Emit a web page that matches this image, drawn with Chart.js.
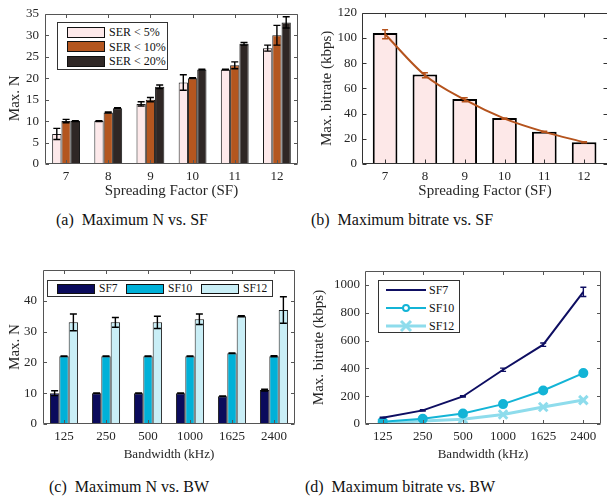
<!DOCTYPE html>
<html><head><meta charset="utf-8">
<script src="https://cdn.jsdelivr.net/npm/chart.js@4.4.0/dist/chart.umd.min.js"></script>
<style>
html,body{margin:0;padding:0;background:#fff;}
body{width:607px;height:499px;position:relative;overflow:hidden;font-family:serif;color:#222;}
canvas{position:absolute;}
.cap{position:absolute;font-size:16px;white-space:pre;transform:translate(-50%,-50%);color:#111;line-height:1;}
.leg{position:absolute;border:1px solid #333;background:#fff;box-sizing:border-box;font-size:12px;color:#111;}
.leg .tx{position:absolute;white-space:nowrap;line-height:1;transform:translateY(-50%);}
.leg .sw{position:absolute;box-sizing:border-box;border:1px solid #111;}
.leg svg{position:absolute;}
</style></head><body>
<canvas id="ca" width="300" height="205" style="left:0;top:0"></canvas>
<canvas id="cb" width="310" height="205" style="left:300px;top:0"></canvas>
<canvas id="cc" width="300" height="215" style="left:0;top:250px"></canvas>
<canvas id="cd" width="310" height="215" style="left:300px;top:250px"></canvas>
<script>
// ---------- data ----------
const sfLabels = ['7','8','9','10','11','12'];
const sfValues = [7,8,9,10,11,12];
const serNames = ['SER < 5%','SER < 10%','SER < 20%'];
const maxN_ser5 = [7,10,14,19,22,27];
const maxN_ser5Err = [1.3,0.1,0.5,1.8,0.1,0.7];
const maxN_ser10 = [10,12,15,20,23,30];
const maxN_ser10Err = [0.4,0.1,0.5,0.1,0.8,2.3];
const maxN_ser20 = [10,13,18,22,28,33];
const maxN_ser20Err = [0.1,0.1,0.4,0.1,0.3,1.3];
const ticksA = [0,5,10,15,20,25,30,35];

const bitrateBar = [104,71,51.5,36.5,25.5,17.3];
const bitrateMeas = [103,70.5,51,36,25.5,17.3];
const bitrateMeasErr = [3.5,2,1.5,0.5,0.4,0.4];
const ticksB = [0,20,40,60,80,100,120];

const bwLabels = ['125','250','500','1000','1625','2400'];
const sfNames = ['SF7','SF10','SF12'];
const maxN_sf7 = [10,10,10,10,9,11];
const maxN_sf7Err = [0.8,0.1,0.1,0.1,0.1,0.3];
const maxN_sf10 = [22,22,22,22,23,22];
const maxN_sf10Err = [0.1,0.1,0.1,0.1,0.1,0.2];
const maxN_sf12 = [33,33,33,34,35,37];
const maxN_sf12Err = [2.7,1.6,2.0,1.7,0.2,4.3];
const ticksC = [0,10,20,30,40];

const rate_sf7 = [45,98,198,390,570,950];
const rate_sf7Err = [3,4,5,12,12,33];
const rate_sf10 = [17,38,76,143,241,366];
const rate_sf12 = [8,22,35,68,122,172];
const ticksD = [0,200,400,600,800,1000];

// ---------- colours ----------
const cSer = ['#fde9ea','#b4561f','#2f2725'];
const cSf = ['#0b0b5c','#00b1d8','#c9eef6'];
const cSfLine = ['#0e0e62','#13b4d6','#8edcec'];
const cBitrate = '#b5531d';

// ---------- setup ----------
const FONT = 'Liberation Serif';
const fnt = s => ({family: FONT, size: s, style: 'normal', lineHeight: 1.2});
Chart.defaults.font = {family: FONT, size: 13, style: 'normal', lineHeight: 1.2, weight: null};
Chart.defaults.color = '#262626';
Chart.defaults.animation = false;
Chart.defaults.plugins.legend.display = false;
Chart.defaults.plugins.tooltip.enabled = false;

const errPlugin = {
  id: 'errbars',
  afterDatasetsDraw(chart) {
    const ctx = chart.ctx, ys = chart.scales.y;
    chart.data.datasets.forEach((ds, di) => {
      if (!ds.errors) return;
      const meta = chart.getDatasetMeta(di);
      ctx.save();
      ctx.strokeStyle = ds.errColor || '#000';
      ctx.lineWidth = ds.errWidth || 1.4;
      const cap = ds.errCap || 3.5;
      meta.data.forEach((el, i) => {
        const e = ds.errors[i];
        if (e == null) return;
        const v = meta.controller.getParsed(i).y;
        const x = el.x, y1 = ys.getPixelForValue(v - e), y2 = ys.getPixelForValue(v + e);
        ctx.beginPath();
        ctx.moveTo(x, y1); ctx.lineTo(x, y2);
        ctx.moveTo(x - cap, y1); ctx.lineTo(x + cap, y1);
        ctx.moveTo(x - cap, y2); ctx.lineTo(x + cap, y2);
        ctx.stroke();
      });
      ctx.restore();
    });
  }
};

const framePlugin = {
  id: 'frame',
  afterDraw(chart, args, o) {
    const ctx = chart.ctx, a = chart.chartArea, xs = chart.scales.x, ys = chart.scales.y;
    const L = Math.round(a.left) + 0.5, R = Math.round(a.right) - 0.5;
    const T = Math.round(a.top) + 0.5, B = Math.round(a.bottom) - 0.5;
    const len = o.len || 4;
    ctx.save();
    ctx.strokeStyle = o.color || '#555';
    ctx.lineWidth = 1;
    ctx.beginPath();
    ctx.moveTo(L, T); ctx.lineTo(R, T); ctx.lineTo(R, B); ctx.lineTo(L, B); ctx.closePath();
    xs.ticks.forEach((t, i) => {
      const px = Math.round(xs.getPixelForTick(i)) + 0.5;
      ctx.moveTo(px, B); ctx.lineTo(px, B - len);
      ctx.moveTo(px, T); ctx.lineTo(px, T + len);
    });
    ys.ticks.forEach((t, i) => {
      const py = Math.round(ys.getPixelForTick(i)) + 0.5;
      ctx.moveTo(L, py); ctx.lineTo(L + len, py);
      ctx.moveTo(R, py); ctx.lineTo(R - len, py);
    });
    ctx.stroke();
    ctx.restore();
  }
};

const noGrid = {display: false, drawTicks: false};
const noBorder = {display: false};
const plain = v => String(v);
const setTicks = arr => s => { s.ticks = arr.map(v => ({value: v})); };
const charts = [];

// ---------- (a) ----------
charts.push(new Chart(document.getElementById('ca'), {
  type: 'bar',
  data: {
    labels: sfLabels,
    datasets: [
      {label: serNames[0], data: maxN_ser5, errors: maxN_ser5Err, backgroundColor: cSer[0], borderColor: '#1a1a1a', borderWidth: 1},
      {label: serNames[1], data: maxN_ser10, errors: maxN_ser10Err, backgroundColor: cSer[1], borderColor: '#1a1a1a', borderWidth: 1},
      {label: serNames[2], data: maxN_ser20, errors: maxN_ser20Err, backgroundColor: cSer[2], borderColor: '#1a1a1a', borderWidth: 1}
    ]
  },
  options: {
    responsive: false,
    layout: {padding: {top: 10, right: 2, left: 0, bottom: 0}},
    datasets: {bar: {categoryPercentage: 0.66, barPercentage: 1}},
    scales: {
      x: {grid: noGrid, border: noBorder, ticks: {padding: 5, font: fnt(13)},
          title: {display: true, text: 'Spreading Factor (SF)', font: fnt(15), padding: {top: 0, bottom: 5}},
          afterFit: s => { s.height = 41; }},
      y: {min: 0, max: 35, grid: noGrid, border: noBorder, afterBuildTicks: setTicks(ticksA),
          ticks: {padding: 6, font: fnt(13), callback: plain, autoSkip: false},
          title: {display: true, text: 'Max. N     ', font: fnt(15), padding: {top: 6, bottom: 0}},
          afterFit: s => { s.width = 45; }}
    },
    plugins: {frame: {color: '#555', len: 3.5}}
  },
  plugins: [errPlugin, framePlugin]
}));

// ---------- (b) ----------
charts.push(new Chart(document.getElementById('cb'), {
  type: 'bar',
  data: {
    datasets: [
      {type: 'bar', label: 'Max. bitrate', data: sfValues.map((x, i) => ({x: x, y: bitrateBar[i]})),
       backgroundColor: '#fde8e8', borderColor: '#000', borderWidth: 2, barPercentage: 0.62, categoryPercentage: 1},
      {type: 'line', label: 'measured', data: sfValues.map((x, i) => ({x: x, y: bitrateMeas[i]})),
       errors: bitrateMeasErr, errColor: cBitrate, errWidth: 1.5, errCap: 3,
       borderColor: cBitrate, borderWidth: 2, pointRadius: 0, cubicInterpolationMode: 'monotone', order: -1}
    ]
  },
  options: {
    responsive: false,
    layout: {padding: {top: 10, right: 2, left: 0, bottom: 0}},
    scales: {
      x: {type: 'linear', min: 6.42, max: 12.6, offset: false, grid: noGrid, border: noBorder,
          afterBuildTicks: setTicks(sfValues),
          ticks: {padding: 5, font: fnt(13), callback: plain, autoSkip: false},
          title: {display: true, text: 'Spreading Factor (SF)', font: fnt(15), padding: {top: 0, bottom: 5}},
          afterFit: s => { s.height = 41; }},
      y: {min: 0, max: 120, grid: noGrid, border: noBorder, afterBuildTicks: setTicks(ticksB),
          ticks: {padding: 5, font: fnt(13), callback: plain, autoSkip: false},
          title: {display: true, text: 'Max. bitrate (kbps)', font: fnt(15), padding: {top: 18, bottom: 0}},
          afterFit: s => { s.width = 62; }}
    },
    plugins: {frame: {color: '#333', len: 4}}
  },
  plugins: [errPlugin, framePlugin]
}));

// ---------- (c) ----------
charts.push(new Chart(document.getElementById('cc'), {
  type: 'bar',
  data: {
    labels: bwLabels,
    datasets: [
      {label: sfNames[0], data: maxN_sf7, errors: maxN_sf7Err, backgroundColor: cSf[0], borderColor: '#1a1a1a', borderWidth: 1},
      {label: sfNames[1], data: maxN_sf10, errors: maxN_sf10Err, backgroundColor: cSf[1], borderColor: '#1a1a1a', borderWidth: 1},
      {label: sfNames[2], data: maxN_sf12, errors: maxN_sf12Err, backgroundColor: cSf[2], borderColor: '#1a1a1a', borderWidth: 1}
    ]
  },
  options: {
    responsive: false,
    layout: {padding: {top: 20, right: 5, left: 0, bottom: 0}},
    datasets: {bar: {categoryPercentage: 0.67, barPercentage: 1}},
    scales: {
      x: {grid: noGrid, border: noBorder, ticks: {padding: 5, font: fnt(13)},
          title: {display: true, text: 'Bandwidth (kHz)', font: fnt(13), padding: {top: 0, bottom: 3}},
          afterFit: s => { s.height = 41; }},
      y: {min: 0, max: 50, grid: noGrid, border: noBorder, afterBuildTicks: setTicks(ticksC),
          ticks: {padding: 6, font: fnt(13), callback: plain, autoSkip: false},
          title: {display: true, text: 'Max. N', font: fnt(15), padding: {top: 6, bottom: 0}},
          afterFit: s => { s.width = 43; }}
    },
    plugins: {frame: {color: '#555', len: 3.5}}
  },
  plugins: [errPlugin, framePlugin]
}));

// ---------- (d) ----------
const idx = bwLabels.map((l, i) => i + 1);
charts.push(new Chart(document.getElementById('cd'), {
  type: 'line',
  data: {
    datasets: [
      {label: sfNames[0], data: idx.map((x, i) => ({x: x, y: rate_sf7[i]})), errors: rate_sf7Err, errColor: cSfLine[0], errWidth: 1.4, errCap: 3,
       borderColor: cSfLine[0], borderWidth: 2, pointRadius: 0, tension: 0},
      {label: sfNames[1], data: idx.map((x, i) => ({x: x, y: rate_sf10[i]})),
       borderColor: cSfLine[1], backgroundColor: cSfLine[1], borderWidth: 2, pointRadius: 4, pointStyle: 'circle', pointBorderWidth: 2, tension: 0},
      {label: sfNames[2], data: idx.map((x, i) => ({x: x, y: rate_sf12[i]})),
       borderColor: cSfLine[2], backgroundColor: cSfLine[2], borderWidth: 3, pointRadius: 6, pointStyle: 'crossRot', pointBorderWidth: 3, tension: 0}
    ]
  },
  options: {
    responsive: false,
    layout: {padding: {top: 21, right: 5, left: 0, bottom: 0}},
    scales: {
      x: {type: 'linear', min: 0.56, max: 6.44, grid: noGrid, border: noBorder,
          afterBuildTicks: setTicks(idx),
          ticks: {padding: 5, font: fnt(13), callback: v => bwLabels[v - 1], autoSkip: false},
          title: {display: true, text: 'Bandwidth (kHz)', font: fnt(13), padding: {top: 0, bottom: 3}},
          afterFit: s => { s.height = 41; }},
      y: {min: 0, max: 1100, grid: noGrid, border: noBorder, afterBuildTicks: setTicks(ticksD),
          ticks: {padding: 5, font: fnt(13), callback: plain, autoSkip: false},
          title: {display: true, text: 'Max. bitrate (kbps)', font: fnt(15), padding: {top: 10, bottom: 0}},
          afterFit: s => { s.width = 65; }}
    },
    plugins: {frame: {color: '#555', len: 3.5}}
  },
  plugins: [errPlugin, framePlugin]
}));

// re-render once fonts are settled
const rerender = () => charts.forEach(c => c.update('none'));
if (document.fonts && document.fonts.ready) document.fonts.ready.then(rerender);
window.addEventListener('load', rerender);
setTimeout(rerender, 60);
</script>
<div class="cap" style="left:132px;top:220px">(a)  Maximum N vs. SF</div>
<div class="cap" style="left:402px;top:220px">(b)  Maximum bitrate vs. SF</div>
<div class="cap" style="left:129px;top:487px">(c)  Maximum N vs. BW</div>
<div class="cap" style="left:400px;top:487px">(d)  Maximum bitrate vs. BW</div>
<div id="lega" class="leg" style="left:57px;top:22px;width:111px;height:48px"></div>
<div id="legc" class="leg" style="left:47px;top:280px;width:226px;height:17px"></div>
<div id="legd" class="leg" style="left:378px;top:280px;width:82px;height:53px"></div>
<script>
function el(tag, cls, style, text) {
  const e = document.createElement(tag);
  if (cls) e.className = cls;
  if (style) e.setAttribute('style', style);
  if (text != null) e.textContent = text;
  return e;
}
const la = document.getElementById('lega');
serNames.forEach((n, i) => {
  const cy = 9 + i * 14.5;
  la.appendChild(el('div', 'sw', `left:9px;top:${cy - 5.5}px;width:38px;height:11px;background:${cSer[i]}`));
  la.appendChild(el('div', 'tx', `left:51px;top:${cy}px`, n));
});
const lc = document.getElementById('legc');
const lcX = [9, 78, 153];
sfNames.forEach((n, i) => {
  lc.appendChild(el('div', 'sw', `left:${lcX[i]}px;top:2.5px;width:38px;height:10px;background:${cSf[i]}`));
  lc.appendChild(el('div', 'tx', `left:${lcX[i] + 42}px;top:7.5px;font-size:11.5px`, n));
});
const ld = document.getElementById('legd');
sfNames.forEach((n, i) => {
  const cy = 8.5 + i * 18;
  const svgNS = 'http://www.w3.org/2000/svg';
  const svg = document.createElementNS(svgNS, 'svg');
  svg.setAttribute('width', '42'); svg.setAttribute('height', '14');
  svg.setAttribute('style', `left:6px;top:${cy - 7}px`);
  const ln = document.createElementNS(svgNS, 'line');
  ln.setAttribute('x1', '1'); ln.setAttribute('x2', '41'); ln.setAttribute('y1', '7'); ln.setAttribute('y2', '7');
  ln.setAttribute('stroke', cSfLine[i]); ln.setAttribute('stroke-width', i === 2 ? '3' : '2');
  svg.appendChild(ln);
  if (i === 1) {
    const c = document.createElementNS(svgNS, 'circle');
    c.setAttribute('cx', '21'); c.setAttribute('cy', '7'); c.setAttribute('r', '3');
    c.setAttribute('fill', '#fff'); c.setAttribute('stroke', cSfLine[1]); c.setAttribute('stroke-width', '2');
    svg.appendChild(c);
  }
  if (i === 2) {
    const p = document.createElementNS(svgNS, 'path');
    p.setAttribute('d', 'M16 2 L26 12 M26 2 L16 12');
    p.setAttribute('stroke', cSfLine[2]); p.setAttribute('stroke-width', '3');
    svg.appendChild(p);
  }
  ld.appendChild(svg);
  ld.appendChild(el('div', 'tx', `left:50px;top:${cy}px`, n));
});
</script>
</body></html>
